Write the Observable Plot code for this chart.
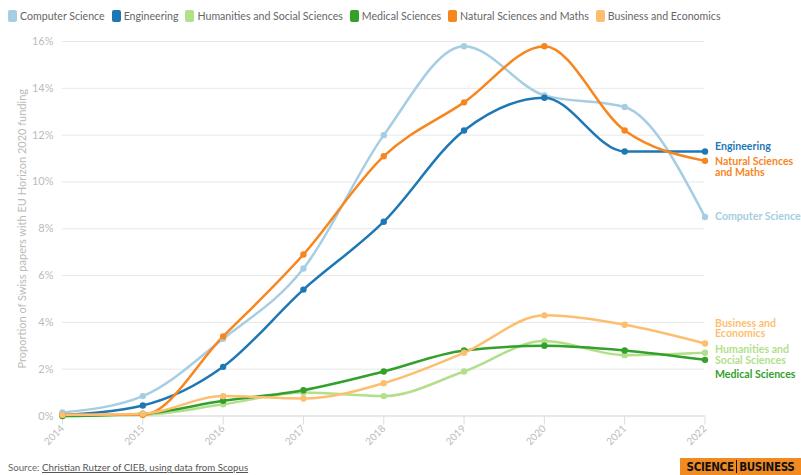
<!DOCTYPE html>
<html>
<head>
<meta charset="utf-8">
<script src="https://cdn.jsdelivr.net/npm/d3@7"></script>
<script src="https://cdn.jsdelivr.net/npm/@observablehq/plot@0.6"></script>
<style>
  html, body { margin: 0; padding: 0; background: #fff; }
  body { width: 801px; height: 475px; position: relative; overflow: hidden; font-family: Lato, "Open Sans", sans-serif; }
  #legend { position: absolute; left: 8px; top: 10px; display: flex; align-items: center; font-size: 10.6px; color: #666; white-space: nowrap; }
  #legend .item { display: flex; align-items: center; margin-right: 7px; }
  #legend .sw { width: 9px; height: 12px; border-radius: 2px; margin-right: 3px; }
  #chart { position: absolute; left: 0; top: 30px; }
  #source { position: absolute; left: 8px; top: 461px; font-size: 9.7px; color: #666; }
  #source span { text-decoration: underline; color: #555; }
  #logo { position: absolute; left: 680px; top: 458px; width: 121px; height: 17px; background: #f18a21; display: flex; align-items: center; justify-content: center; font-family: "DejaVu Sans Condensed", "DejaVu Sans", sans-serif; font-weight: bold; font-size: 11.5px; color: #111; letter-spacing: -0.3px; }
  #logo .bar { display: inline-block; width: 1.5px; height: 13px; background: #111; margin: 0 2px; }
</style>
</head>
<body>
<div id="legend"></div>
<div id="chart"></div>
<div id="source">Source: <span>Christian Rutzer of CIEB, using data from Scopus</span></div>
<div id="logo">SCIENCE<span class="bar"></span>BUSINESS</div>
<script>
const years = [2014, 2015, 2016, 2017, 2018, 2019, 2020, 2021, 2022];
const seriesNames = ["Computer Science", "Engineering", "Humanities and Social Sciences", "Medical Sciences", "Natural Sciences and Maths", "Business and Economics"];
const endLabels = ["Computer Science", "Engineering", "Humanities and\nSocial Sciences", "Medical Sciences", "Natural Sciences\nand Maths", "Business and\nEconomics"];
const computerScience = [0.15, 0.85, 3.3, 6.3, 12.0, 15.8, 13.7, 13.2, 8.5];
const engineering = [0.05, 0.45, 2.1, 5.4, 8.3, 12.2, 13.6, 11.3, 11.3];
const humanities = [0.0, 0.05, 0.5, 1.0, 0.85, 1.9, 3.2, 2.6, 2.7];
const medical = [0.0, 0.1, 0.65, 1.1, 1.9, 2.8, 3.0, 2.8, 2.4];
const naturalSciences = [0.05, 0.05, 3.4, 6.9, 11.1, 13.4, 15.8, 12.2, 10.9];
const business = [0.05, 0.1, 0.85, 0.75, 1.4, 2.7, 4.3, 3.9, 3.1];
const yTicks = [0, 2, 4, 6, 8, 10, 12, 14, 16];

const colors = ["#a6cee3", "#1f78b4", "#b2df8a", "#33a02c", "#f7861f", "#fdbf6f"];
const valuesList = [computerScience, engineering, humanities, medical, naturalSciences, business];
const labelDy = [0, -5, 2.5, 14.5, 6, -15];

const table = [];
seriesNames.forEach((s, i) => years.forEach((y, j) => table.push({series: s, year: y, value: valuesList[i][j]})));

// legend
const legend = document.getElementById("legend");
seriesNames.forEach((s, i) => {
  const it = document.createElement("div");
  it.className = "item";
  it.innerHTML = `<div class="sw" style="background:${colors[i]}"></div><span>${s}</span>`;
  legend.appendChild(it);
});

const labelMarks = seriesNames.map((s, i) => Plot.text([{series: s, year: years[years.length - 1], value: valuesList[i][years.length - 1], label: endLabels[i]}], {
  x: "year", y: "value", text: "label", fill: colors[i], textAnchor: "start", lineAnchor: "middle",
  dx: 10, dy: labelDy[i], fontWeight: "bold", fontSize: 10.6, lineHeight: 1.0
}));

const chart = Plot.plot({
  width: 801,
  height: 420,
  marginTop: 11,
  marginBottom: 34.5,
  marginLeft: 62,
  marginRight: 96.5,
  style: {fontFamily: "Lato, 'Open Sans', sans-serif", fontSize: "11px", color: "#bbb", background: "transparent", overflow: "visible"},
  x: {domain: [2014, 2022]},
  y: {domain: [0, 16]},
  color: {domain: seriesNames, range: colors},
  marks: [
    Plot.gridY(yTicks, {stroke: "#e8e8e8", strokeOpacity: 1, strokeWidth: 1}),
    Plot.axisY(yTicks, {tickSize: 0, tickPadding: 9, tickFormat: d => d + "%", fill: "#bbb",
      label: "Proportion of Swiss papers with EU Horizon 2020 funding", labelAnchor: "center", labelArrow: "none", labelOffset: 44, fontSize: 11}),
    Plot.axisX(years, {tickSize: 9, tickRotate: -45, tickFormat: d => String(d), stroke: "#ddd", fill: "#bbb", tickPadding: 2, label: null, fontSize: 10}),
    Plot.ruleY([0], {stroke: "#ddd"}),
    Plot.line(table, {x: "year", y: "value", z: "series", stroke: "series", strokeWidth: 2.5, curve: "monotone-x"}),
    Plot.dot(table, {x: "year", y: "value", fill: "series", r: 3.2}),
    ...labelMarks
  ]
});
document.getElementById("chart").appendChild(chart);
</script>
</body>
</html>
